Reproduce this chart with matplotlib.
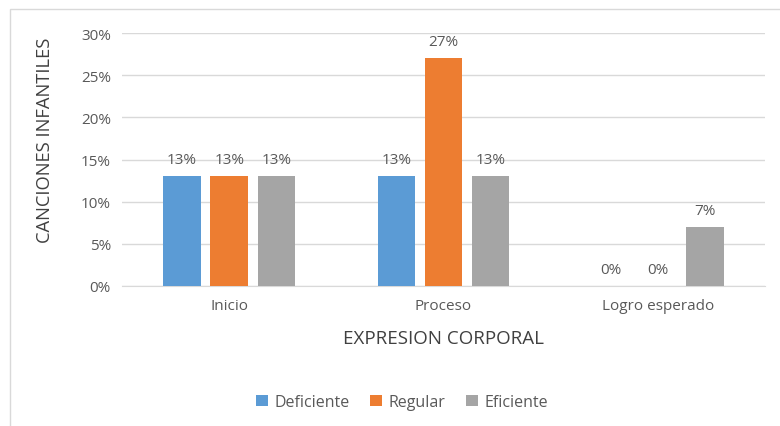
import matplotlib.pyplot as plt
import numpy as np
from matplotlib.patches import Rectangle

categories = ['Inicio', 'Proceso', 'Logro esperado']
deficiente = [13, 13, 0]
regular = [13, 27, 0]
eficiente = [13, 13, 7]
series = ['Deficiente', 'Regular', 'Eficiente']
colors = ['#5B9BD5', '#ED7D31', '#A5A5A5']
yticks = [0, 5, 10, 15, 20, 25, 30]

plt.rcParams['font.family'] = ['Open Sans', 'DejaVu Sans']
txt = '#595959'

fig = plt.figure(figsize=(7.8, 4.27), dpi=100)
fig.patches.append(Rectangle((10/780, -0.1), 1.0, 1 - 10/427 + 0.1, transform=fig.transFigure,
                             fill=False, edgecolor='#D9D9D9', linewidth=1))
ax = fig.add_axes([122/780, 1 - 287/427, 643/780, 253/427])

x = np.arange(len(categories))
w = 0.175
step = 0.22
for i, (name, vals) in enumerate(zip(series, [deficiente, regular, eficiente])):
    xs = x + (i - 1) * step
    ax.bar(xs, vals, width=w, color=colors[i], label=name, zorder=3)
    for xi, v in zip(xs, vals):
        ax.text(xi, v + 1.1, f'{v}%', ha='center', va='bottom', fontsize=11, color=txt)

ax.set_xlim(-0.5, 2.5)
ax.set_ylim(0, 30)
ax.set_yticks(yticks)
ax.set_yticklabels([f'{t}%' for t in yticks])
ax.set_xticks(x)
ax.set_xticklabels(categories)
ax.grid(axis='y', color='#D9D9D9', linewidth=1, zorder=0)
for s in ['top', 'right', 'left']:
    ax.spines[s].set_visible(False)
ax.spines['bottom'].set_color('#D9D9D9')
ax.tick_params(axis='both', length=0, labelsize=11, colors=txt, pad=8)
ax.tick_params(axis='x', pad=9)

ax.set_ylabel('CANCIONES INFANTILES', fontsize=13.2, color='#404040')
ax.yaxis.set_label_coords(-0.105, 0.58)
ax.set_xlabel('EXPRESION CORPORAL', fontsize=13.5, color='#404040', labelpad=11)

fig.legend(loc='center', bbox_to_anchor=(402/780, 1 - 403/427), ncol=3, frameon=False,
           fontsize=11.5, handlelength=0.75, handleheight=0.75, columnspacing=1.3,
           handletextpad=0.4, labelcolor=txt)

fig.savefig('out.png', dpi=100)
